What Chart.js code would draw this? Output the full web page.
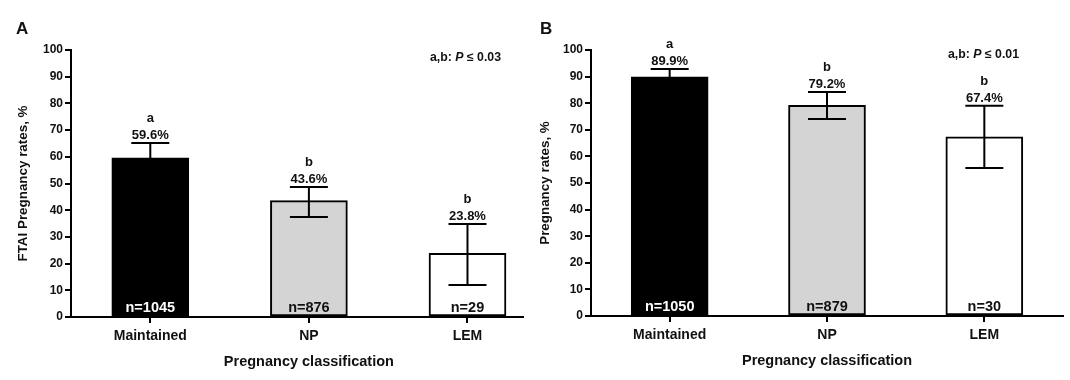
<!DOCTYPE html>
<html lang="en">
<head>
  <meta charset="UTF-8">
  <title>Pregnancy rates by classification</title>
  <script src="https://cdn.jsdelivr.net/npm/chart.js"></script>
  <style>
    html, body { margin: 0; padding: 0; background: #fff; }
    .wrap { position: relative; width: 1070px; height: 380px; }
    .panel { position: absolute; top: 0; }
    #chartA { left: 0; }
    #chartB { left: 535px; }
  </style>
</head>
<body>
  <div class="wrap">
    <canvas id="chartA" class="panel" width="535" height="380"></canvas>
    <canvas id="chartB" class="panel" width="535" height="380"></canvas>
  </div>
  <script>
    // data
    const categories = ['Maintained', 'NP', 'LEM'];
    const yTicks = [0, 10, 20, 30, 40, 50, 60, 70, 80, 90, 100];

    const ratesA = [59.6, 43.6, 23.8];
    const upperA = [65.2, 48.7, 34.8];
    const lowerA = [54.0, 37.5, 12.0];
    const lettersA = ['a', 'b', 'b'];
    const countsA = ['n=1045', 'n=876', 'n=29'];

    const ratesB = [89.9, 79.2, 67.4];
    const upperB = [92.9, 84.2, 79.0];
    const lowerB = [86.9, 74.1, 55.6];
    const lettersB = ['a', 'b', 'b'];
    const countsB = ['n=1050', 'n=879', 'n=30'];

    const FONT = '"Liberation Sans", Arial, sans-serif';
    const fills = ['#000000', '#d4d4d4', '#ffffff'];

    Chart.defaults.font.family = FONT;
    Chart.defaults.color = '#111';
    Chart.defaults.animation = false;

    function makePanel(id, p) {
      const annot = {
        id: 'annot',
        afterDatasetsDraw(chart) {
          const { ctx, chartArea } = chart;
          const xs = chart.scales.x, ys = chart.scales.y;
          ctx.save();
          ctx.strokeStyle = '#000';
          ctx.lineWidth = 2;
          p.rates.forEach((v, i) => {
            const x = xs.getPixelForValue(i);
            const yHi = ys.getPixelForValue(p.upper[i]);
            const yLo = ys.getPixelForValue(p.lower[i]);
            // error bar
            ctx.beginPath();
            ctx.moveTo(x, yLo); ctx.lineTo(x, yHi);
            ctx.moveTo(x - 19, yHi); ctx.lineTo(x + 19, yHi);
            ctx.moveTo(x - 19, yLo); ctx.lineTo(x + 19, yLo);
            ctx.stroke();
            // labels above the cap
            ctx.fillStyle = '#111';
            ctx.textAlign = 'center';
            ctx.textBaseline = 'alphabetic';
            ctx.font = 'bold 13px ' + FONT;
            ctx.fillText(v.toFixed(1) + '%', x, yHi - 4);
            ctx.fillText(p.letters[i], x, yHi - 21);
            // n inside the bar
            ctx.font = 'bold 14.5px ' + FONT;
            ctx.fillStyle = i === 0 ? '#fff' : '#111';
            ctx.fillText(p.counts[i], x, chartArea.bottom - 5);
          });

          ctx.fillStyle = '#111';
          // y title
          ctx.save();
          ctx.translate(p.yTitleX, (chartArea.top + chartArea.bottom) / 2);
          ctx.rotate(-Math.PI / 2);
          ctx.textAlign = 'center';
          ctx.textBaseline = 'middle';
          ctx.font = 'bold 13.4px ' + FONT;
          ctx.fillText(p.yTitle, 0, 0);
          ctx.restore();

          // x title
          ctx.textAlign = 'center';
          ctx.textBaseline = 'middle';
          ctx.font = 'bold 14.5px ' + FONT;
          ctx.fillText('Pregnancy classification', xs.getPixelForValue(1), p.xTitleY);

          // panel letter
          ctx.textAlign = 'left';
          ctx.font = 'bold 17px ' + FONT;
          ctx.fillText(p.panel, p.panelX, 29);

          // significance note
          const parts = [['a,b: ', 'bold'], ['P', 'italic bold'], [' \u2264 ' + p.pVal, 'bold']];
          let px = p.pX;
          parts.forEach(([t, w]) => {
            ctx.font = w + ' 12.3px ' + FONT;
            ctx.fillText(t, px, p.pY);
            px += ctx.measureText(t).width;
          });
          ctx.restore();
        }
      };

      return new Chart(document.getElementById(id), {
        type: 'bar',
        data: {
          datasets: [{
            data: p.rates.map((v, i) => ({ x: i, y: v })),
            backgroundColor: fills,
            borderColor: '#000',
            borderWidth: 2,
            borderSkipped: false,
            barThickness: 77
          }]
        },
        options: {
          responsive: false,
          layout: { padding: { left: 0, right: p.padRight, top: 50, bottom: 0 } },
          plugins: { legend: { display: false }, tooltip: { enabled: false } },
          scales: {
            x: {
              type: 'linear',
              min: p.xMin,
              max: p.xMax,
              offset: false,
              afterBuildTicks: s => { s.ticks = categories.map((c, i) => ({ value: i })); },
              afterFit: s => { s.height = 380 - p.bottom; },
              ticks: {
                callback: v => categories[v],
                font: { weight: 'bold', size: 14 },
                color: '#111',
                padding: 5,
                autoSkip: false,
                maxRotation: 0
              },
              grid: { offset: false, drawOnChartArea: false, drawTicks: true, tickLength: 6, color: '#000', lineWidth: 2 },
              border: { color: '#000', width: 2 }
            },
            y: {
              min: 0,
              max: 100,
              afterBuildTicks: s => { s.ticks = yTicks.map(v => ({ value: v })); },
              afterFit: s => { s.width = p.yWidth; },
              ticks: { font: { weight: 'bold', size: 12 }, color: '#111', padding: 2 },
              grid: { drawOnChartArea: false, tickLength: 6, color: '#000', lineWidth: 2 },
              border: { color: '#000', width: 2 }
            }
          }
        },
        plugins: [annot]
      });
    }

    makePanel('chartA', {
      rates: ratesA, upper: upperA, lower: lowerA, letters: lettersA, counts: countsA,
      yTitle: 'FTAI Pregnancy rates, %', yTitleX: 23, yWidth: 71, padRight: 12, bottom: 317,
      xMin: -0.5, xMax: 2.35, xTitleY: 362, panel: 'A', panelX: 16,
      pVal: '0.03', pX: 430, pY: 58
    });

    makePanel('chartB', {
      rates: ratesB, upper: upperB, lower: lowerB, letters: lettersB, counts: countsB,
      yTitle: 'Pregnancy rates, %', yTitleX: 10, yWidth: 56, padRight: 7, bottom: 316,
      xMin: -0.5, xMax: 2.5, xTitleY: 361, panel: 'B', panelX: 5,
      pVal: '0.01', pX: 413, pY: 55
    });
  </script>
</body>
</html>
